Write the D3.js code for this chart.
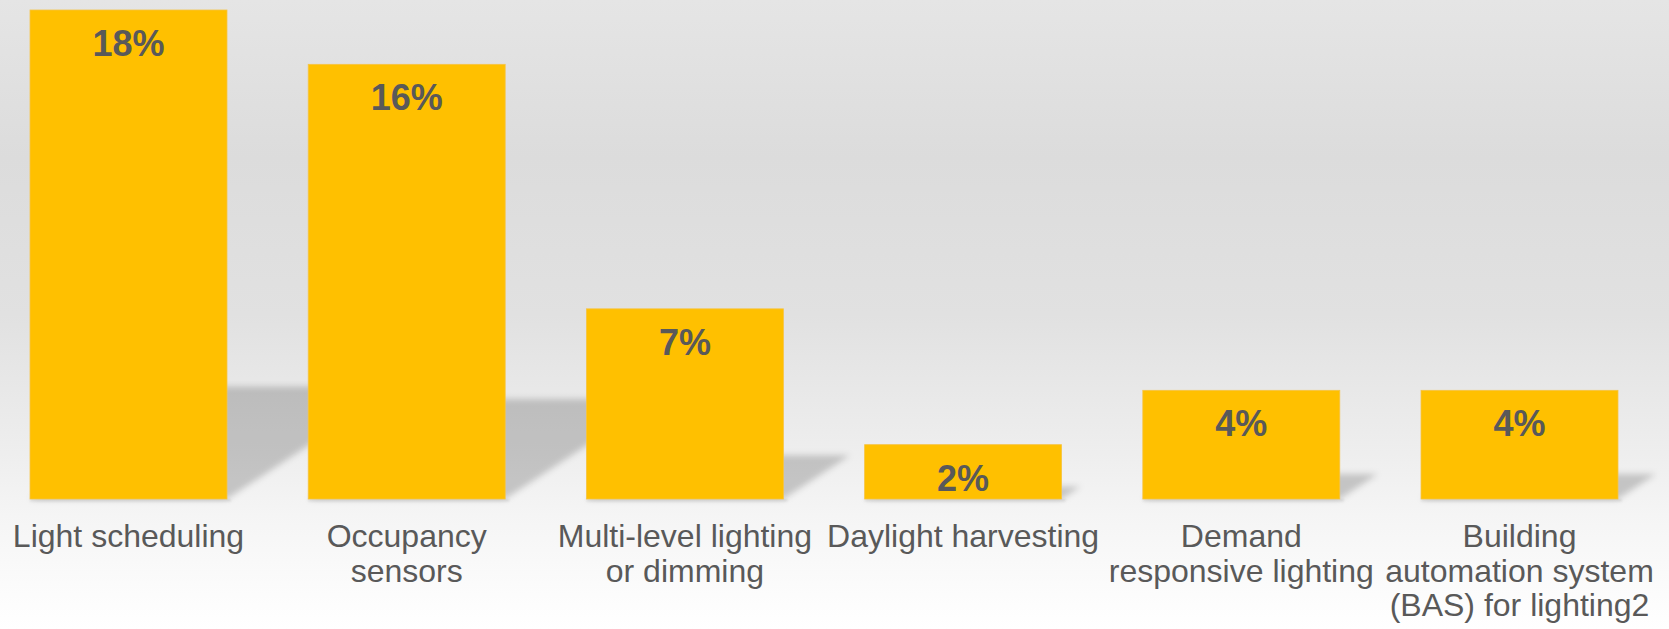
<!DOCTYPE html>
<html>
<head>
<meta charset="utf-8">
<script src="https://cdn.jsdelivr.net/npm/d3@7"></script>
<style>
  html, body { margin: 0; padding: 0; overflow: hidden; background: #fff; }
  svg { display: block; }
  text { font-family: "Liberation Sans", Arial, sans-serif; }
</style>
</head>
<body>
<svg id="chart" width="1669" height="629"></svg>
<script>
// Lighting control strategies — share of respondents (%)
const categories = [
  "Light scheduling",
  "Occupancy sensors",
  "Multi-level lighting or dimming",
  "Daylight harvesting",
  "Demand responsive lighting",
  "Building automation system (BAS) for lighting2"
];
const values = [18, 16, 7, 2, 4, 4];
// Line breaks used for the category labels under each bar
const categoryLines = [
  ["Light scheduling"],
  ["Occupancy", "sensors"],
  ["Multi-level lighting", "or dimming"],
  ["Daylight harvesting"],
  ["Demand", "responsive lighting"],
  ["Building", "automation system", "(BAS) for lighting2"]
];

const W = 1669, H = 629;
const baseline = 499;

const svg = d3.select("#chart");
const defs = svg.append("defs");

// soft grey backdrop fading to white towards the floor
const grad = defs.append("linearGradient")
  .attr("id", "bg").attr("x1", 0).attr("y1", 0).attr("x2", 0).attr("y2", 1);
[[0, "#e5e5e5"], [0.25, "#dcdcdc"], [0.5, "#e1e1e1"], [0.72, "#eeeeee"], [0.82, "#f5f5f5"], [1, "#ffffff"]]
  .forEach(([o, c]) => grad.append("stop").attr("offset", o).attr("stop-color", c));

defs.append("filter").attr("id", "soft")
  .attr("x", "-20%").attr("y", "-20%").attr("width", "140%").attr("height", "140%")
  .append("feGaussianBlur").attr("stdDeviation", 3);
defs.append("filter").attr("id", "soft1")
  .attr("x", "-20%").attr("y", "-100%").attr("width", "140%").attr("height", "300%")
  .append("feGaussianBlur").attr("stdDeviation", 1);

svg.append("rect").attr("width", W).attr("height", H).attr("fill", "url(#bg)");

const x = d3.scaleBand()
  .domain(categories)
  .range([-10.6, 1658.6])
  .paddingInner(0.292)
  .paddingOuter(0.146);

const y = d3.scaleLinear().domain([0, 18]).range([baseline, 10]);

const data = categories.map((c, i) => ({ cat: c, v: values[i], lines: categoryLines[i] }));

// perspective floor shadows cast up and to the right of each bar
svg.append("g").attr("filter", "url(#soft)")
  .selectAll("polygon").data(data).join("polygon")
  .attr("fill", "#000").attr("fill-opacity", 0.19)
  .attr("points", d => {
    const x0 = x(d.cat), x1 = x0 + x.bandwidth();
    const h = y(0) - y(d.v);
    const dy = 0.23 * h, dx = 0.35 * h;
    return [[x0, baseline], [x1, baseline], [x1 + dx, baseline - dy], [x0 + dx, baseline - dy]]
      .map(p => p.join(",")).join(" ");
  });

// thin contact shadow under each bar
svg.append("g").attr("filter", "url(#soft1)")
  .selectAll("rect").data(data).join("rect")
  .attr("x", d => x(d.cat)).attr("y", baseline)
  .attr("width", d => x.bandwidth() + 4).attr("height", 2.5)
  .attr("fill", "#000").attr("fill-opacity", 0.09);

// bars
svg.append("g").selectAll("rect").data(data).join("rect")
  .attr("x", d => x(d.cat))
  .attr("y", d => y(d.v))
  .attr("width", x.bandwidth())
  .attr("height", d => y(0) - y(d.v))
  .attr("fill", "#FFC000")
  .attr("stroke", "#f6c443").attr("stroke-width", 0.8);

// value labels inside the top of each bar
svg.append("g").selectAll("text").data(data).join("text")
  .attr("x", d => x(d.cat) + x.bandwidth() / 2)
  .attr("y", d => y(d.v) + 46)
  .attr("text-anchor", "middle")
  .attr("font-size", 36).attr("font-weight", "bold")
  .attr("fill", "#595959")
  .text(d => d.v + "%");

// category labels
const cat = svg.append("g").selectAll("text").data(data).join("text")
  .attr("x", d => x(d.cat) + x.bandwidth() / 2)
  .attr("y", 547)
  .attr("text-anchor", "middle")
  .attr("font-size", 32)
  .attr("fill", "#595959");
cat.selectAll("tspan").data(d => d.lines).join("tspan")
  .attr("x", function () { return d3.select(this.parentNode).attr("x"); })
  .attr("dy", (l, i) => i === 0 ? 0 : 34.5)
  .text(l => l);
</script>
</body>
</html>
